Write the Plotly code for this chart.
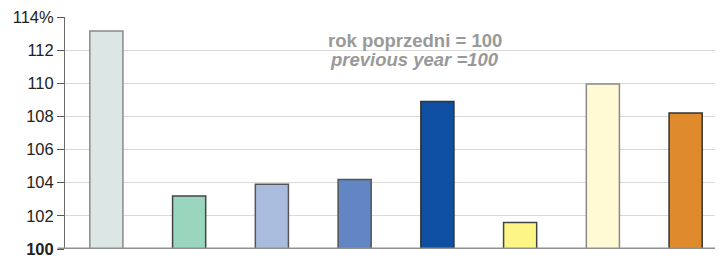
import plotly.graph_objects as go

categories = ["A", "B", "C", "D", "E", "F", "G", "H"]
values = [113.15, 103.2, 103.9, 104.2, 108.9, 101.6, 109.95, 108.2]
fill_colors = ["#dce6e4", "#9ad5be", "#a9bcdd", "#6285c4", "#0f4fa1", "#fef587", "#fff9d4", "#e08a2e"]
line_colors = ["#8a8a8a", "#444444", "#555555", "#555555", "#333333", "#444444", "#8a8a8a", "#333333"]
tick_vals = [100, 102, 104, 106, 108, 110, 112, 114]
tick_text = ["<b>100</b>", "102", "104", "106", "108", "110", "112", "114%"]

fig = go.Figure()
fig.add_trace(go.Bar(
    x=categories,
    y=[v - 100 for v in values],
    base=100,
    width=0.4,
    marker=dict(color=fill_colors, line=dict(color=line_colors, width=1.5)),
))

fig.update_layout(
    width=723, height=258,
    margin=dict(l=57, r=4, t=9, b=17, autoexpand=False),
    paper_bgcolor="white", plot_bgcolor="white",
    showlegend=False,
    font=dict(family="Liberation Sans, Arial, sans-serif", size=16.5, color="#222222"),
    xaxis=dict(showticklabels=False, showgrid=False, zeroline=False, showline=False,
               range=[-0.5, 7.5], ticks="", automargin=False),
    yaxis=dict(range=[100, 114], tickvals=tick_vals, ticktext=tick_text,
               showgrid=True, gridcolor="#d9d9d9", gridwidth=1,
               showline=True, linecolor="#6a6a6a", linewidth=1,
               ticks="outside", ticklen=7, tickcolor="#555555",
               zeroline=False, automargin=False, ticklabeloverflow="allow",
               tickfont=dict(size=16.5, color="#222222")),
    shapes=[dict(type="line", xref="paper", yref="y", x0=-0.011, x1=1, y0=100, y1=100,
                 line=dict(color="#8f8f8f", width=3))],
    annotations=[
        dict(text="<b>rok poprzedni = 100</b>", xref="paper", yref="paper",
             x=0.528, y=0.897, showarrow=False, xanchor="center", yanchor="middle",
             font=dict(size=18.5, color="#999999")),
        dict(text="<b><i>previous year =100</i></b>", xref="paper", yref="paper",
             x=0.528, y=0.815, showarrow=False, xanchor="center", yanchor="middle",
             font=dict(size=18.5, color="#999999")),
    ],
)

fig.write_html("out.html")
